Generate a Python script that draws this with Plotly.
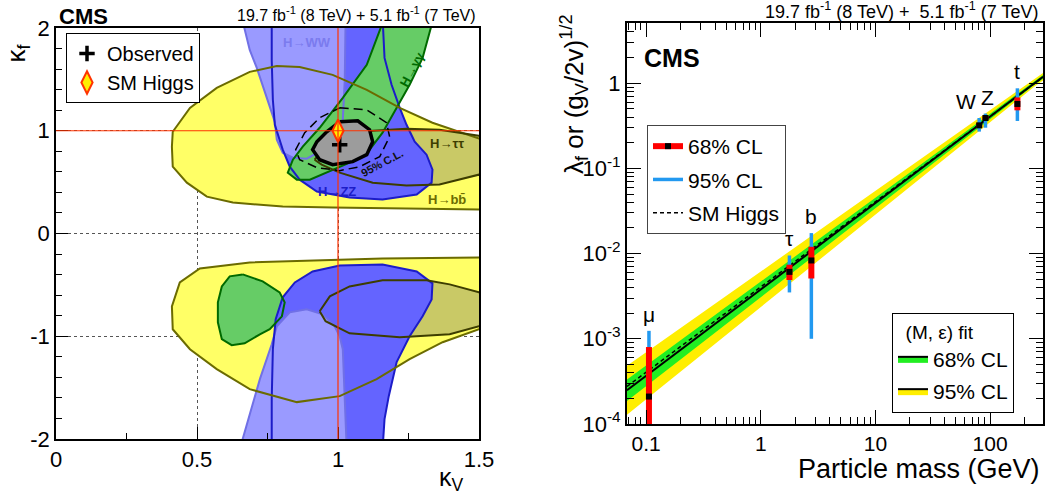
import math
import plotly.graph_objects as go

FONT = "Liberation Sans, Arial, sans-serif"

# ---------------- left panel: kappa_V vs kappa_f likelihood contours ----------------
bb_up_kv = [1.60, 1.50, 1.335, 1.219, 1.102, 0.981, 0.864, 0.783, 0.687, 0.570, 0.475, 0.414, 0.411, 0.414, 0.464, 0.535, 0.627, 0.804, 0.981, 1.219, 1.50, 1.60]
bb_up_kf = [0.90, 0.925, 1.078, 1.223, 1.398, 1.544, 1.621, 1.631, 1.573, 1.417, 1.223, 0.990, 0.845, 0.650, 0.495, 0.359, 0.301, 0.262, 0.252, 0.243, 0.233, 0.23]
bb_dn_kv = [1.60, 1.50, 1.158, 0.687, 0.510, 0.439, 0.411, 0.414, 0.475, 0.570, 0.687, 0.854, 1.006, 1.137, 1.254, 1.371, 1.50, 1.60]
bb_dn_kf = [-0.23, -0.233, -0.243, -0.282, -0.340, -0.476, -0.709, -0.932, -1.126, -1.320, -1.515, -1.641, -1.583, -1.417, -1.223, -1.058, -0.932, -0.90]

tt_up_kv = [0.917, 0.953, 1.006, 1.123, 1.243, 1.360, 1.50, 1.60, 1.60, 1.50, 1.360, 1.243, 1.123, 1.006, 0.942, 0.917]
tt_up_kf = [0.718, 0.835, 0.922, 1.000, 1.019, 1.010, 0.951, 0.92, 0.56, 0.573, 0.476, 0.466, 0.495, 0.592, 0.670, 0.718]
tt_dn_kv = [0.935, 0.971, 1.041, 1.158, 1.314, 1.396, 1.50, 1.60, 1.60, 1.50, 1.396, 1.219, 1.041, 0.956, 0.935]
tt_dn_kf = [-0.757, -0.612, -0.515, -0.456, -0.456, -0.495, -0.573, -0.61, -0.88, -0.903, -0.981, -1.010, -0.971, -0.854, -0.757]

zz_up_kv = [0.765, 0.765, 0.769, 0.776, 0.804, 0.829, 0.864, 0.925, 1.041, 1.158, 1.279, 1.332, 1.335, 1.314, 1.272, 1.243, 1.219, 1.190, 1.165, 1.158, 0.765]
zz_up_kf = [2.10, 1.689, 1.301, 1.058, 0.816, 0.650, 0.524, 0.408, 0.350, 0.330, 0.379, 0.495, 0.621, 0.767, 0.893, 1.058, 1.223, 1.447, 1.709, 2.10, 2.10]
zz_dn_kv = [0.765, 0.765, 0.769, 0.779, 0.804, 0.847, 0.910, 1.006, 1.158, 1.279, 1.335, 1.332, 1.300, 1.254, 1.208, 1.180, 1.165, 1.158, 0.765]
zz_dn_kf = [-2.10, -1.612, -1.126, -0.835, -0.621, -0.476, -0.369, -0.311, -0.301, -0.369, -0.485, -0.641, -0.806, -1.000, -1.252, -1.583, -1.806, -2.10, -2.10]

ww_up_kv = [0.659, 0.687, 0.712, 0.747, 0.776, 0.783, 0.804, 0.840, 0.889, 0.935, 0.988, 1.017, 1.024, 1.027, 0.659]
ww_up_kf = [2.10, 1.786, 1.612, 1.320, 1.087, 0.913, 0.786, 0.738, 0.728, 0.796, 0.913, 1.107, 1.495, 2.10, 2.10]
ww_dn_kv = [0.652, 0.662, 0.723, 0.765, 0.783, 0.829, 0.889, 0.946, 0.988, 1.006, 1.017, 1.024, 1.031, 0.652]
ww_dn_kf = [-2.10, -2.0, -1.417, -1.078, -0.903, -0.767, -0.738, -0.786, -0.903, -1.000, -1.126, -1.583, -2.10, -2.10]

gg_up_kv = [1.165, 1.102, 1.017, 0.935, 0.875, 0.840, 0.822, 0.854, 0.900, 0.960, 1.041, 1.112, 1.158, 1.208, 1.254, 1.300, 1.339, 1.165]
gg_up_kf = [2.10, 1.641, 1.320, 1.029, 0.845, 0.718, 0.592, 0.524, 0.524, 0.592, 0.689, 0.816, 0.981, 1.223, 1.447, 1.709, 2.10, 2.10]
gg_dn_kv = [0.662, 0.733, 0.793, 0.811, 0.801, 0.758, 0.723, 0.669, 0.623, 0.588, 0.574, 0.574, 0.588, 0.616, 0.662]
gg_dn_kf = [-0.398, -0.466, -0.573, -0.670, -0.806, -0.932, -0.981, -1.068, -1.087, -1.029, -0.864, -0.670, -0.515, -0.417, -0.398]

comb68_kv = [1.006, 1.070, 1.112, 1.123, 1.102, 1.052, 0.981, 0.935, 0.910, 0.925, 0.960, 1.006]
comb68_kf = [1.087, 1.097, 1.010, 0.893, 0.767, 0.699, 0.670, 0.718, 0.816, 0.893, 0.990, 1.087]
comb95_kv = [1.006, 1.102, 1.172, 1.183, 1.148, 1.077, 1.006, 0.925, 0.864, 0.850, 0.882, 0.935, 1.006]
comb95_kf = [1.223, 1.204, 1.078, 0.942, 0.748, 0.650, 0.612, 0.641, 0.718, 0.816, 0.981, 1.126, 1.223]

obs_kv, obs_kf = [1.006], [0.864]
sm_kv, sm_kf = [1.0], [1.0]

# ---------------- right panel: reduced couplings vs particle mass ----------------
particles = ["μ", "τ", "b", "W", "Z", "t"]
mass = [0.1057, 1.777, 2.76, 80.4, 91.19, 173.2]
central = [2.1e-4, 6.1e-3, 8.3e-3, 0.32, 0.39, 0.57]
lo68 = [3e-5, 4.9e-3, 5.1e-3, 0.30, 0.37, 0.48]
hi68 = [8.0e-4, 7.4e-3, 0.0120, 0.34, 0.41, 0.68]
lo95 = [3e-5, 3.5e-3, 1.0e-3, 0.27, 0.30, 0.36]
hi95 = [1.24e-3, 9.5e-3, 0.0174, 0.39, 0.44, 0.87]

fit_mass = [0.068, 0.1, 1.0, 10.0, 100.0, 244.0, 290.0]
fit_central = [2.49e-4, 3.68e-4, 3.80e-3, 0.0393, 0.406, 1.0, 1.19]
fit68_lo = [1.86e-4, 2.78e-4, 3.08e-3, 0.0340, 0.377, 0.955, 1.13]
fit68_hi = [3.33e-4, 4.88e-4, 4.70e-3, 0.0453, 0.437, 1.047, 1.25]
fit95_lo = [1.28e-4, 1.95e-4, 2.36e-3, 0.0286, 0.348, 0.912, 1.074]
fit95_hi = [4.84e-4, 6.97e-4, 6.12e-3, 0.0538, 0.473, 1.096, 1.32]
sm_mass = [0.068, 290.0]
sm_lambda = [0.068 / 246.22, 290.0 / 246.22]

fig = go.Figure()

def fill(xs, ys, color):
    fig.add_trace(go.Scatter(x=xs, y=ys, mode="lines", fill="toself", fillcolor=color,
                             line=dict(width=0), hoverinfo="skip", showlegend=False,
                             xaxis="x", yaxis="y"))

def outline(xs, ys, color, width=2, dash="solid"):
    fig.add_trace(go.Scatter(x=xs, y=ys, mode="lines", line=dict(color=color, width=width, dash=dash),
                             hoverinfo="skip", showlegend=False, xaxis="x", yaxis="y"))

C_BB, L_BB = "#ffff66", "#6b6b00"
C_TT, L_TT = "#c9c966", "#3d3d00"
C_ZZ, L_ZZ = "#6464ff", "#1c1cc8"
C_WW, L_WW = "#9a9aff", "#7070e6"
C_GG, L_GG = "#66cc66", "#006a00"

fill(bb_up_kv, bb_up_kf, C_BB)
fill(bb_dn_kv, bb_dn_kf, C_BB)
fill(tt_up_kv, tt_up_kf, C_TT)
fill(tt_dn_kv, tt_dn_kf, C_TT)
fill(gg_dn_kv, gg_dn_kf, C_GG)
fill(zz_up_kv, zz_up_kf, C_ZZ)
fill(zz_dn_kv, zz_dn_kf, C_ZZ)
fill(ww_up_kv, ww_up_kf, C_WW)
fill(ww_dn_kv, ww_dn_kf, C_WW)
fill(gg_up_kv, gg_up_kf, C_GG)

outline(ww_up_kv, ww_up_kf, L_WW)
outline(ww_dn_kv, ww_dn_kf, L_WW)
outline(zz_up_kv, zz_up_kf, L_ZZ)
outline(zz_dn_kv, zz_dn_kf, L_ZZ)
outline(gg_up_kv, gg_up_kf, L_GG)
outline(gg_dn_kv, gg_dn_kf, L_GG)
outline(bb_up_kv, bb_up_kf, L_BB)
outline(bb_dn_kv, bb_dn_kf, L_BB)
outline(tt_up_kv, tt_up_kf, L_TT)
outline(tt_dn_kv, tt_dn_kf, L_TT)

fig.add_trace(go.Scatter(x=comb68_kv, y=comb68_kf, mode="lines", fill="toself", fillcolor="#9c9c9c",
                         line=dict(color="black", width=3.5), showlegend=False, hoverinfo="skip",
                         xaxis="x", yaxis="y"))
outline(comb95_kv, comb95_kf, "black", width=1.5, dash="9px,5px")

fig.add_trace(go.Scatter(x=obs_kv, y=obs_kf, mode="markers", name="Observed",
                         marker=dict(symbol="cross-thin", size=11, line=dict(color="black", width=3.5), color="black"),
                         xaxis="x", yaxis="y", legend="legend"))
fig.add_trace(go.Scatter(x=sm_kv, y=sm_kf, mode="markers", name="SM Higgs",
                         marker=dict(symbol="diamond-tall", size=16, color="#ffee00",
                                     line=dict(color="#ff3300", width=2)),
                         xaxis="x", yaxis="y", legend="legend"))

# ---------------- right panel traces ----------------
fig.add_trace(go.Scatter(x=fit_mass + fit_mass[::-1], y=fit95_hi + fit95_lo[::-1], mode="lines",
                         fill="toself", fillcolor="#ffee00", line=dict(width=0), showlegend=False,
                         hoverinfo="skip", xaxis="x2", yaxis="y2"))
fig.add_trace(go.Scatter(x=fit_mass + fit_mass[::-1], y=fit68_hi + fit68_lo[::-1], mode="lines",
                         fill="toself", fillcolor="#22ee22", line=dict(width=0), showlegend=False,
                         hoverinfo="skip", xaxis="x2", yaxis="y2"))
fig.add_trace(go.Scatter(x=fit_mass, y=fit_central, mode="lines", line=dict(color="black", width=2),
                         showlegend=False, hoverinfo="skip", xaxis="x2", yaxis="y2"))
fig.add_trace(go.Scatter(x=sm_mass, y=sm_lambda, mode="lines", line=dict(color="black", width=1.5, dash="4px,3px"),
                         showlegend=False, hoverinfo="skip", xaxis="x2", yaxis="y2"))

bx95, by95, bx68, by68 = [], [], [], []
for m, a, b, c, d in zip(mass, lo95, hi95, lo68, hi68):
    bx95 += [m, m, None]
    by95 += [a, b, None]
    bx68 += [m, m, None]
    by68 += [c, d, None]
fig.add_trace(go.Scatter(x=bx95, y=by95, mode="lines", line=dict(color="#2299f0", width=3.5),
                         showlegend=False, hoverinfo="skip", xaxis="x2", yaxis="y2"))
fig.add_trace(go.Scatter(x=bx68, y=by68, mode="lines", line=dict(color="#ff0000", width=6),
                         showlegend=False, hoverinfo="skip", xaxis="x2", yaxis="y2"))
fig.add_trace(go.Scatter(x=mass, y=central, mode="markers", marker=dict(symbol="square", size=6, color="black"),
                         showlegend=False, hoverinfo="skip", xaxis="x2", yaxis="y2"))

# legend-only entries for right panel
fig.add_trace(go.Scatter(x=[None], y=[None], mode="lines+markers", name="68% CL",
                         line=dict(color="#ff0000", width=6), marker=dict(symbol="square", size=6, color="black"),
                         xaxis="x2", yaxis="y2", legend="legend2", legendgroup="a"))
fig.add_trace(go.Scatter(x=[None], y=[None], mode="lines", name="95% CL",
                         line=dict(color="#2299f0", width=3.5),
                         xaxis="x2", yaxis="y2", legend="legend2", legendgroup="b"))
fig.add_trace(go.Scatter(x=[None], y=[None], mode="lines", name="SM Higgs",
                         line=dict(color="black", width=1.5, dash="4px,3px"),
                         xaxis="x2", yaxis="y2", legend="legend2", legendgroup="c"))
fig.add_trace(go.Scatter(x=[None], y=[None], mode="lines", name="68% CL", fill="toself", fillcolor="#22ee22",
                         line=dict(color="black", width=2),
                         xaxis="x2", yaxis="y2", legend="legend3", legendgroup="d"))
fig.add_trace(go.Scatter(x=[None], y=[None], mode="lines", name="95% CL", fill="toself", fillcolor="#ffee00",
                         line=dict(color="black", width=2),
                         xaxis="x2", yaxis="y2", legend="legend3", legendgroup="e"))

W, H = 1048, 494
def px(x):
    return x / W
def py(y):
    return 1 - y / H

ann = []
# left panel labels
lab = [
    ("H→WW", 0.889, 1.86, "#7b7bee", 0, 13),
    ("H→γγ", 1.262, 1.60, "#006a00", -62, 13),
    ("H→ττ", 1.385, 0.88, "#3d3d00", 0, 13),
    ("H→bb̄", 1.385, 0.33, "#6b6b00", 0, 13),
    ("H→ZZ", 0.995, 0.41, "#1c1cc8", 0, 13),
    ("95% C.L.", 1.155, 0.69, "#111111", -28, 11),
]
for t, x, y, c, a, s in lab:
    ann.append(dict(text="<b>" + t + "</b>", x=x, y=y, xref="x", yref="y", showarrow=False,
                    font=dict(size=s, color=c, family=FONT), textangle=a))
# particle labels on right panel
shifts = {"W": -13, "Z": 2}
for p, m, h in zip(particles, mass, hi95):
    ann.append(dict(text=p, x=math.log10(m), y=math.log10(h), xref="x2", yref="y2", showarrow=False,
                    yanchor="bottom", yshift=3, xshift=shifts.get(p, 0),
                    font=dict(size=21, color="black", family=FONT)))

ann += [
    dict(text="<b>CMS</b>", x=px(57), y=py(2), xref="paper", yref="paper", xanchor="left", yanchor="top",
         showarrow=False, font=dict(size=22, family=FONT)),
    dict(text="19.7 fb<sup>-1</sup> (8 TeV) + 5.1 fb<sup>-1</sup> (7 TeV)", x=px(478), y=py(26),
         xref="paper", yref="paper", xanchor="right", yanchor="bottom", showarrow=False,
         font=dict(size=16, family=FONT)),
    dict(text="κ<sub>f</sub>", x=px(17), y=py(42), xref="paper", yref="paper", xanchor="center",
         yanchor="top", textangle=-90, showarrow=False, font=dict(size=26, family=FONT)),
    dict(text="κ<sub>V</sub>", x=px(466), y=py(461), xref="paper", yref="paper", xanchor="right",
         yanchor="top", showarrow=False, font=dict(size=25, family=FONT)),
    dict(text="<b>CMS</b>", x=px(642), y=py(42), xref="paper", yref="paper", xanchor="left", yanchor="top",
         showarrow=False, font=dict(size=25, family=FONT)),
    dict(text="19.7 fb<sup>-1</sup> (8 TeV) +  5.1 fb<sup>-1</sup> (7 TeV)", x=px(1040), y=py(24),
         xref="paper", yref="paper", xanchor="right", yanchor="bottom", showarrow=False,
         font=dict(size=18, family=FONT)),
    dict(text="λ<sub>f</sub> or (g<sub>V</sub>/2v)<sup>1/2</sup>", x=px(574), y=py(12), xref="paper",
         yref="paper", xanchor="center", yanchor="top", textangle=-90, showarrow=False,
         font=dict(size=26, family=FONT)),
    dict(text="Particle mass (GeV)", x=px(1042), y=py(452), xref="paper", yref="paper", xanchor="right",
         yanchor="top", showarrow=False, font=dict(size=27, family=FONT)),
]

shapes = [
    dict(type="line", xref="x", yref="y", x0=1, x1=1, y0=-2, y1=2, line=dict(color="#ff3300", width=1.2), layer="above"),
    dict(type="line", xref="x", yref="y", x0=0, x1=1.5, y0=1, y1=1, line=dict(color="#ff3300", width=1.2), layer="above"),
]

def minor_log(lo, hi):
    vals = []
    for e in range(lo, hi):
        for k in range(2, 10):
            vals.append(k * 10 ** e)
    return vals

axis_common = dict(showline=True, linecolor="black", ticks="inside", tickcolor="black", automargin=False,
                   zeroline=False)
tf22 = dict(size=22, family=FONT, color="black")
tf21 = dict(size=21, family=FONT, color="black")

fig.update_layout(
    width=W, height=H, autosize=False, margin=dict(l=0, r=0, t=0, b=0, autoexpand=False),
    plot_bgcolor="white", paper_bgcolor="white", font=dict(family=FONT, color="black"),
    xaxis=dict(domain=[px(56), px(479)], range=[0, 1.5], anchor="y", mirror=True, linewidth=1.5,
               tickvals=[0, 0.5, 1, 1.5], ticktext=["0", "0.5", "1", "1.5"], ticklen=12, tickfont=tf22,
               minor=dict(dtick=0.25, tick0=0, ticklen=6, ticks="inside", tickcolor="black", showgrid=False),
               showgrid=True, griddash="dot", gridcolor="#555555", gridwidth=1, **axis_common),
    yaxis=dict(domain=[py(439), py(28)], range=[-2, 2], anchor="x", mirror=True, linewidth=1.5,
               tickvals=[-2, -1, 0, 1, 2], ticktext=["-2", "-1", "0", "1", "2"], ticklen=12, tickfont=tf22,
               minor=dict(dtick=0.2, tick0=0, ticklen=6, ticks="inside", tickcolor="black", showgrid=False),
               showgrid=True, griddash="dot", gridcolor="#555555", gridwidth=1, **axis_common),
    xaxis2=dict(domain=[px(627), px(1043)], type="log", range=[-1.1675, 2.462], anchor="y2", mirror="allticks",
                linewidth=2, tickvals=[0.1, 1, 10, 100], ticktext=["0.1", "1", "10", "100"], ticklen=14,
                tickfont=tf21,
                minor=dict(tickvals=minor_log(-2, 3), ticklen=7, ticks="inside", tickcolor="black", showgrid=False),
                showgrid=False, **axis_common),
    yaxis2=dict(domain=[py(424), py(23)], type="log", range=[-4, 0.706], anchor="x2", mirror="allticks",
                linewidth=2, tickvals=[1e-4, 1e-3, 1e-2, 1e-1, 1], tickfont=tf22,
                ticktext=["10<sup>-4</sup>", "10<sup>-3</sup>", "10<sup>-2</sup>", "10<sup>-1</sup>", "1"], ticklen=14,
                minor=dict(tickvals=minor_log(-4, 1), ticklen=7, ticks="inside", tickcolor="black", showgrid=False),
                showgrid=False, **axis_common),
    legend=dict(x=px(66), y=py(33), xanchor="left", yanchor="top", bordercolor="black", borderwidth=1,
                bgcolor="white", font=dict(size=20, family=FONT)),
    legend2=dict(x=px(647), y=py(125), xanchor="left", yanchor="top", bordercolor="#444444", borderwidth=1,
                 bgcolor="white", font=dict(size=21, family=FONT), tracegroupgap=3, traceorder="grouped"),
    legend3=dict(x=px(892), y=py(313), xanchor="left", yanchor="top", bordercolor="black", borderwidth=1,
                 bgcolor="white", font=dict(size=21, family=FONT), tracegroupgap=2, traceorder="grouped",
                 title=dict(text="  (M, ε) fit", font=dict(size=19, family=FONT))),
    annotations=ann, shapes=shapes,
)

fig.write_html("out.html", config={"displayModeBar": False},
               post_script="document.body.style.margin='0';document.body.style.overflow='hidden';")
